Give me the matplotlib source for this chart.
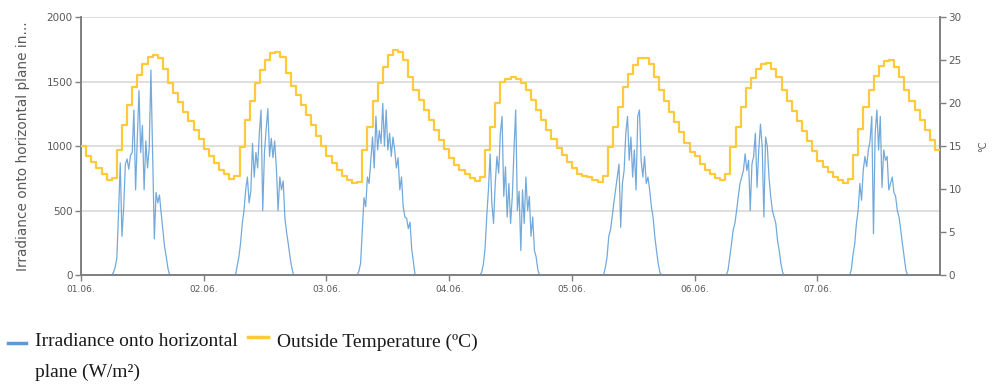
import numpy as np
import matplotlib
matplotlib.use("Agg")
import matplotlib.pyplot as plt
from matplotlib.lines import Line2D

# Tick labels (one per day)
day_labels = ["01.06.", "02.06.", "03.06.", "04.06.", "05.06.", "06.06.", "07.06."]

# Irradiance onto horizontal plane (W/m2), 20-minute values from sunrise of each day
sunrise = [6.0, 6.2, 6.0, 6.0, 6.2, 6.2, 6.3]
irr_day1 = [0, 20, 60, 130, 480, 870, 300, 520, 860, 900, 820, 930, 950, 1280, 660, 1060, 1430, 950,
            1160, 660, 1040, 830, 990, 1590, 950, 280, 640, 560, 620, 480, 350, 220, 140, 50, 0]
irr_day2 = [0, 70, 140, 250, 400, 500, 660, 760, 560, 650, 1020, 760, 950, 830, 1100, 1280, 500, 950,
            1130, 1290, 920, 1060, 910, 1040, 830, 500, 760, 660, 730, 440, 330, 240, 140, 60, 0]
irr_day3 = [0, 30, 90, 350, 600, 530, 760, 710, 890, 1070, 830, 1230, 970, 1120, 1020, 1330, 1000, 1280,
            970, 1100, 920, 1070, 970, 830, 910, 660, 760, 530, 450, 440, 360, 410, 200, 100, 0]
irr_day4 = [0, 20, 80, 200, 450, 660, 940, 560, 400, 710, 920, 790, 1100, 1230, 610, 840, 450, 710,
            400, 610, 970, 1280, 500, 650, 190, 660, 400, 760, 500, 610, 300, 450, 190, 140, 40, 0]
irr_day5 = [0, 60, 140, 300, 350, 450, 560, 660, 760, 860, 370, 710, 810, 1100, 1230, 890, 1070, 760,
            970, 660, 1230, 1280, 890, 760, 920, 710, 760, 660, 530, 450, 300, 190, 90, 20, 0]
irr_day6 = [0, 40, 140, 240, 350, 400, 500, 610, 710, 760, 810, 940, 810, 890, 500, 860, 920, 1100,
            680, 970, 1170, 1000, 450, 1070, 1000, 760, 610, 500, 450, 400, 270, 190, 90, 20, 0]
irr_day7 = [0, 40, 160, 240, 400, 500, 710, 580, 810, 920, 840, 970, 1040, 1230, 320, 1100, 1280, 970,
            1230, 680, 970, 890, 920, 660, 710, 760, 640, 610, 500, 450, 350, 240, 140, 40, 0]
irr_days = [irr_day1, irr_day2, irr_day3, irr_day4, irr_day5, irr_day6, irr_day7]

# Outside temperature (degC), hourly values
temp_day1 = [15.0, 13.9, 13.1, 12.4, 11.8, 11.1, 11.3, 14.6, 17.4, 19.8, 21.9, 23.3,
             24.6, 25.4, 25.6, 25.2, 24.0, 22.3, 21.2, 20.1, 19.0, 17.9, 16.9, 15.8]
temp_day2 = [14.7, 13.9, 13.0, 12.2, 11.7, 11.2, 11.5, 14.9, 18.0, 20.3, 22.3, 23.8,
             25.0, 25.8, 26.0, 25.4, 23.5, 22.0, 20.9, 19.8, 18.6, 17.4, 16.2, 15.0]
temp_day3 = [13.9, 13.0, 12.2, 11.5, 11.0, 10.7, 10.8, 14.5, 17.2, 20.3, 22.3, 24.2,
             25.6, 26.2, 25.9, 25.0, 23.0, 21.5, 20.4, 19.2, 18.0, 16.9, 15.7, 14.7]
temp_day4 = [13.6, 12.8, 12.2, 11.8, 11.3, 10.9, 11.4, 14.5, 17.2, 20.0, 22.5, 22.8,
             23.0, 22.8, 22.3, 21.5, 20.4, 19.2, 18.0, 16.9, 15.8, 14.8, 14.0, 13.2]
temp_day5 = [12.4, 11.8, 11.5, 11.4, 11.1, 10.8, 11.5, 14.9, 17.2, 19.6, 21.9, 23.4,
             24.4, 25.2, 25.2, 24.5, 23.0, 21.5, 20.3, 19.0, 17.8, 16.6, 15.4, 14.3]
temp_day6 = [13.8, 12.9, 12.2, 11.7, 11.3, 11.1, 11.7, 14.9, 17.2, 19.6, 21.7, 22.9,
             24.0, 24.6, 24.7, 24.0, 23.0, 21.5, 20.3, 19.1, 17.9, 16.8, 15.6, 14.4]
temp_day7 = [13.3, 12.6, 12.0, 11.4, 11.0, 10.7, 11.2, 14.0, 17.0, 19.6, 21.5, 23.1,
             24.3, 24.9, 25.0, 24.2, 23.0, 21.5, 20.3, 19.2, 18.0, 16.9, 15.7, 14.5]
temp_end = 14.5
temp_days = [temp_day1, temp_day2, temp_day3, temp_day4, temp_day5, temp_day6, temp_day7]

# build the time series (hours since 01.06. 00:00)
irr_t = [0.0]
irr_v = [0.0]
for d, vals in enumerate(irr_days):
    for i, v in enumerate(vals):
        irr_t.append(d * 24 + sunrise[d] + i / 3.0)
        irr_v.append(v)
irr_t.append(168.0)
irr_v.append(0.0)

temp_v = [v for day in temp_days for v in day] + [temp_end]
temp_t = np.arange(len(temp_v))

text_grey = "#595959"
axis_grey = "#7f7f7f"
blue = "#5b9bd5"
yellow = "#ffc93c"

fig = plt.figure(figsize=(9.92, 3.89), dpi=100)
ax = fig.add_axes([0.0817, 0.293, 0.866, 0.663])
ax2 = ax.twinx()

ax.plot(irr_t, irr_v, color=blue, lw=0.9, alpha=0.85, zorder=3)
ax2.plot(temp_t, temp_v, color=yellow, lw=1.6, drawstyle="steps-post", zorder=3)

ax.set_xlim(0, 168)
ax.set_ylim(0, 2000)
ax2.set_ylim(0, 30)
ax.set_yticks([0, 500, 1000, 1500, 2000])
ax2.set_yticks([0, 5, 10, 15, 20, 25, 30])
ax.set_xticks(np.arange(7) * 24)
ax.set_xticklabels(day_labels)

ax.grid(axis="y", color="#dcdcdc", lw=1.3)
ax.set_axisbelow(True)

for a in (ax, ax2):
    a.spines["top"].set_visible(False)
    for s in ("left", "right", "bottom"):
        a.spines[s].set_color(axis_grey)
        a.spines[s].set_linewidth(1.2)
    a.tick_params(colors=axis_grey, labelcolor=text_grey, length=4, width=1)
ax.tick_params(axis="y", labelsize=7.5, pad=2)
ax.tick_params(axis="x", labelsize=6.5, pad=3)
ax2.tick_params(axis="y", labelsize=7.5, pad=2)

ax.set_ylabel("Irradiance onto horizontal plane in...", color=text_grey, fontsize=9.8, labelpad=12)
ax2.set_ylabel("°C", color=text_grey, fontsize=7, labelpad=12)

# legend under the chart
serif = "Liberation Serif"
fig.add_artist(Line2D([0.008, 0.026], [0.118, 0.118], color=blue, lw=2.5))
fig.text(0.035, 0.121, "Irradiance onto horizontal", fontsize=14, family=serif,
         va="center", ha="left", color="#1a1a1a")
fig.text(0.035, 0.044, "plane (W/m\u00b2)", fontsize=14, family=serif,
         va="center", ha="left", color="#1a1a1a")
fig.add_artist(Line2D([0.250, 0.270], [0.134, 0.134], color=yellow, lw=2.5))
fig.text(0.279, 0.121, "Outside Temperature (\u00baC)", fontsize=14, family=serif,
         va="center", ha="left", color="#1a1a1a")

fig.savefig("out.png", dpi=100)
